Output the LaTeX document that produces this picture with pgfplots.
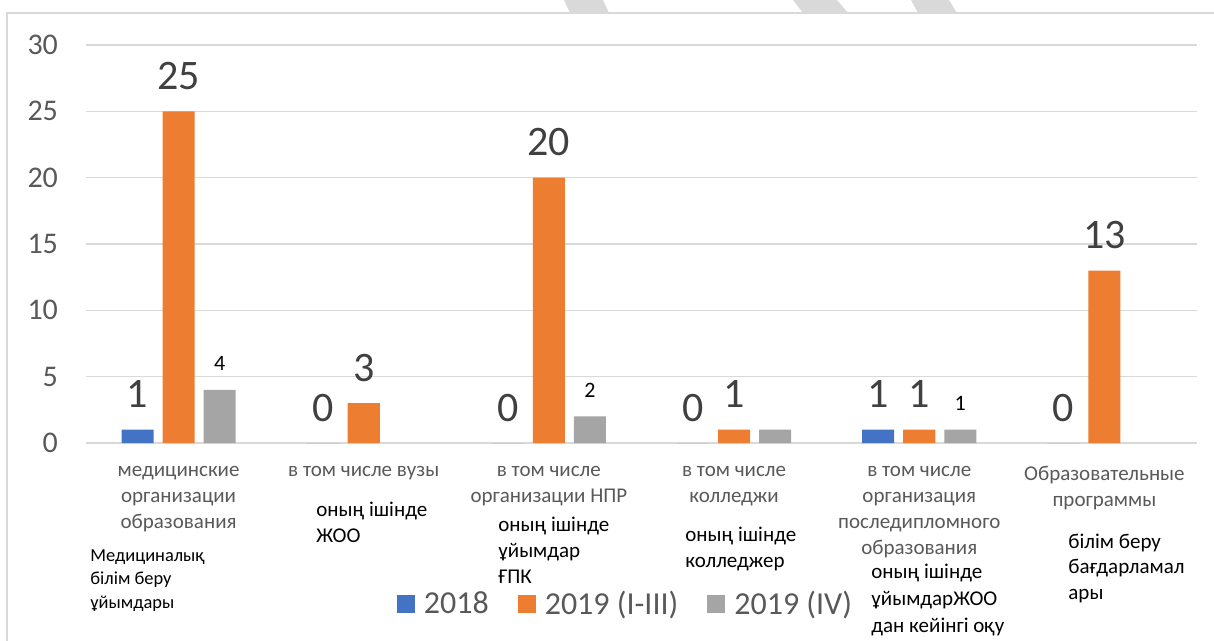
\documentclass[border=0pt]{standalone}
\usepackage{fontspec}
\setmainfont{Carlito}
\usepackage{pgfplots}
\pgfplotsset{compat=1.18}
\definecolor{cA}{HTML}{4472C4}
\definecolor{cB}{HTML}{ED7D31}
\definecolor{cC}{HTML}{A5A5A5}
\definecolor{tl}{HTML}{595959}
\definecolor{dl}{HTML}{404040}
\definecolor{gl}{HTML}{D9D9D9}
\begin{document}
\begin{tikzpicture}
\useasboundingbox (0,0) rectangle (607pt,-320.5pt);
\begin{scope}[x=0.5pt,y=-0.5pt]
\fill[gl] (564,0) -- (603,0) -- (609,13) -- (570,13) -- cycle;
\fill[gl] (793,0) -- (837,0) -- (848,13) -- (803,13) -- cycle;
\fill[gl] (911,0) -- (949,0) -- (957,13) -- (918,13) -- cycle;
\draw[gl, line width=0.6pt] (7,13) rectangle (1240,680);
\end{scope}
\begin{axis}[
  at={(43pt,-221.5pt)}, anchor=south west,
  scale only axis, width=555.5pt, height=199pt,
  xmin=-0.5, xmax=5.5, ymin=0, ymax=30,
  ytick={0,5,...,30}, xtick={0,...,5},
  xticklabels={{медицинские\\организации\\образования},{в том числе вузы},{в том числе\\организации НПР},{в том числе\\колледжи},{в том числе\\организация\\последипломного\\образования},{Образовательные\\программы}},
  xticklabel style={align=center, font=\fontsize{10.5}{13}\selectfont, text=tl, yshift=-4pt},
  yticklabel style={font=\fontsize{15}{17}\selectfont, text=tl, xshift=-10.5pt},
  /pgf/number format/assume math mode=true,
  axis line style={draw=none}, major tick style={draw=none},
  ymajorgrids, grid style={gl, line width=0.75pt},
  ybar, bar width=0.173,
  legend style={at={(0.4865,-0.4045)}, anchor=center, draw=none, fill=none,
    font=\fontsize{16}{19}\selectfont, text=tl, legend columns=-1,
    /tikz/every odd column/.append style={column sep=2.5pt},
    /tikz/every even column/.append style={column sep=12.5pt}},
]
\addplot[fill=cA, draw=none, bar shift=-0.2216,
  legend image code/.code={\fill[cA] (0pt,-4.5pt) rectangle (9pt,4.5pt);},
  nodes near coords,
  every node near coord/.append style={font=\fontsize{21}{24}\selectfont, text=dl, anchor=base, yshift=11pt}]
  coordinates {(0,1) (1,0) (2,0) (3,0) (4,1) (5,0)};
\addplot[fill=cB, draw=none, bar shift=0,
  legend image code/.code={\fill[cB] (0pt,-4.5pt) rectangle (9pt,4.5pt);},
  nodes near coords,
  every node near coord/.append style={font=\fontsize{21}{24}\selectfont, text=dl, anchor=base, yshift=11pt}]
  coordinates {(0,25) (1,3) (2,20) (3,1) (4,1) (5,13)};
\addplot[fill=cC, draw=none, bar shift=0.2216,
  legend image code/.code={\fill[cC] (0pt,-4.5pt) rectangle (9pt,4.5pt);},
  point meta=explicit symbolic, nodes near coords,
  every node near coord/.append style={font=\fontsize{11}{13}\selectfont, text=black, anchor=base, yshift=9.5pt}]
  coordinates {(0,4) [4] (2,2) [2] (3,1) [] (4,1) [1]};
\legend{2018, 2019 (I-III), 2019 (IV)}
\end{axis}
\begin{scope}[x=0.5pt,y=-0.5pt, every node/.style={anchor=base west, align=left, inner sep=0pt, font=\fontsize{10.5}{13}\selectfont, text=black}]
\node[font=\fontsize{9.2}{11.75}\selectfont] at (90,608) {Медициналық\\білім беру\\ұйымдары};
\node at (316,542) {оның ішінде\\ЖОО};
\node at (498,583) {оның ішінде\\ұйымдар\\ҒПК};
\node at (685,567) {оның ішінде\\колледжер};
\node[font=\fontsize{10.5}{13.5}\selectfont] at (871,632) {оның ішінде\\ұйымдарЖОО\\дан кейінгі оқу};
\node[font=\fontsize{10.5}{12.75}\selectfont] at (1068,599) {білім беру\\бағдарламал\\ары};
\end{scope}
\end{tikzpicture}
\end{document}
